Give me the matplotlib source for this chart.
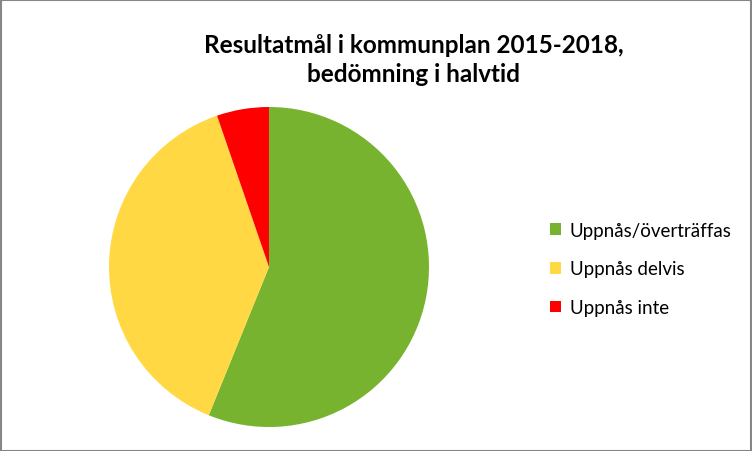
import matplotlib.pyplot as plt
from matplotlib.patches import Rectangle, Patch

labels = ['Uppnås/överträffas', 'Uppnås delvis', 'Uppnås inte']
values = [32, 22, 3]
colors = ['#77B32F', '#FFD843', '#FF0000']
title = 'Resultatmål i kommunplan 2015-2018,\nbedömning i halvtid'

plt.rcParams['font.family'] = ['Lato', 'DejaVu Sans']

fig = plt.figure(figsize=(7.52, 4.52), dpi=100)

# pie area: center ~ (269, 268) px, radius ~160 px
ax = fig.add_axes([109 / 752, 24 / 452, 320 / 752, 320 / 452])
ax.pie(values, colors=colors, startangle=90, counterclock=False,
       wedgeprops={'linewidth': 0})
ax.set_xlim(-1, 1)
ax.set_ylim(-1, 1)
ax.set_aspect('equal')
ax.axis('off')

fig.text(414 / 752, 1 - 60 / 452, title, ha='center', va='center',
         fontsize=17.5, fontweight='bold', linespacing=1.3)

handles = [Patch(facecolor=c, edgecolor='none') for c in colors]
fig.legend(handles, labels, loc='center left',
           bbox_to_anchor=(533 / 752, 1 - 270 / 452), frameon=False,
           fontsize=13.5, handlelength=0.6, handleheight=0.6,
           handletextpad=0.45, labelspacing=1.15)

# outer chart border
fig.add_artist(Rectangle((0.5 / 752, 0.5 / 452), 1 - 1.5 / 752, 1 - 1.5 / 452,
                         transform=fig.transFigure, fill=False,
                         edgecolor='#868686', linewidth=1.5))

fig.savefig('out.png', dpi=100)
